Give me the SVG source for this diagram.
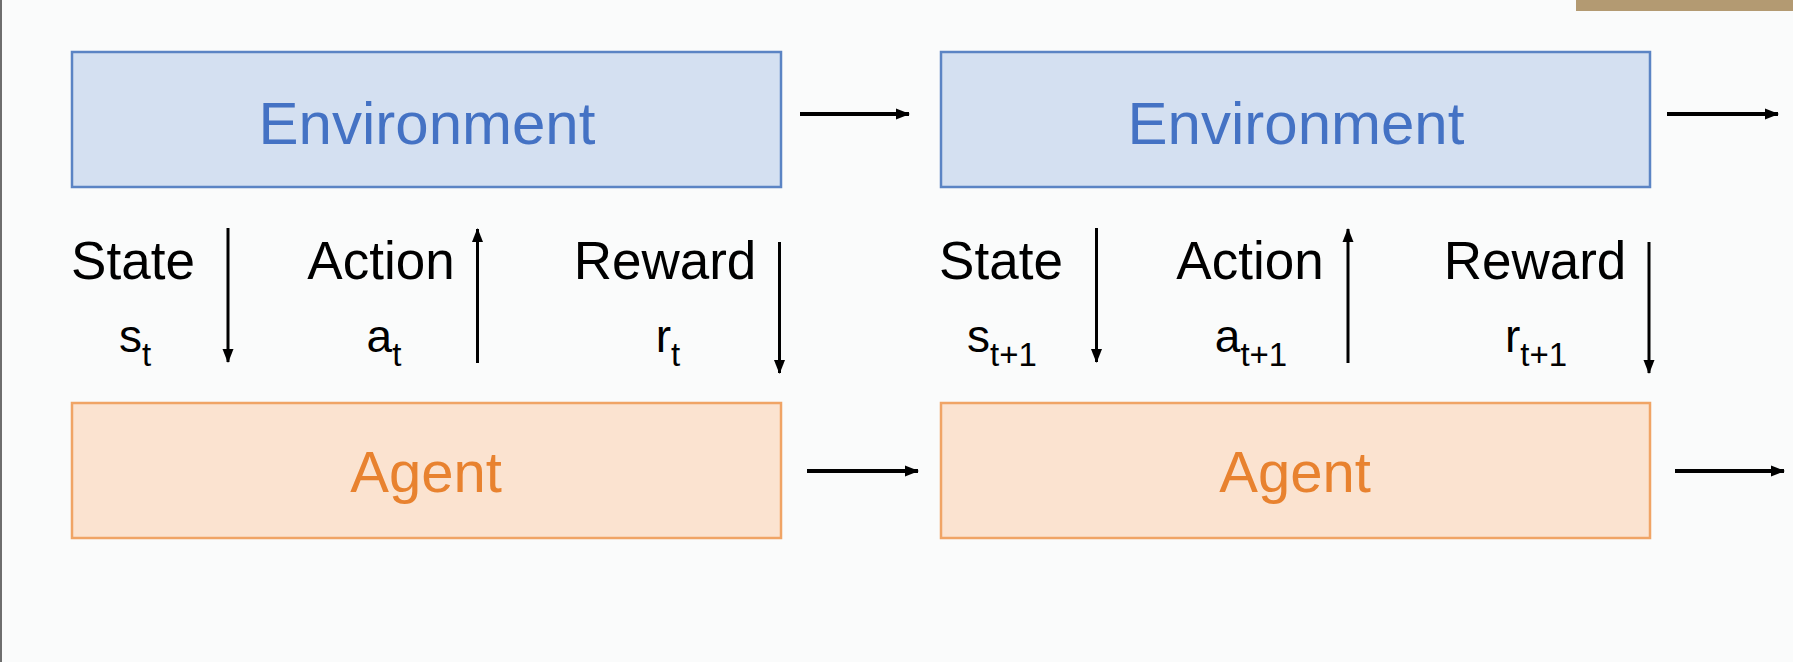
<svg xmlns="http://www.w3.org/2000/svg" width="1793" height="662" viewBox="0 0 1793 662">
<defs>
<style>
.env rect{fill:#d4e0f1;stroke:#5b84c4;stroke-width:2.5}
.env text{fill:#4472c4;font-family:"Liberation Sans",Arial,sans-serif;font-size:60px;text-anchor:middle}
.agent rect{fill:#fbe3d0;stroke:#f0a465;stroke-width:2.5}
.agent text{fill:#e8822f;font-family:"Liberation Sans",Arial,sans-serif;font-size:58px;text-anchor:middle}
.lbl{fill:#000;font-family:"Liberation Sans",Arial,sans-serif;font-size:53px;text-anchor:middle}
.sub{fill:#000;font-family:"Liberation Sans",Arial,sans-serif;font-size:46px;text-anchor:middle}
.v{stroke:#000;stroke-width:3;fill:none;marker-end:url(#ah)}
.h{stroke:#000;stroke-width:4;fill:none;marker-end:url(#ahh)}
</style>
<marker id="ah" viewBox="0 0 14 12" refX="13" refY="6" markerWidth="14" markerHeight="12" orient="auto" markerUnits="userSpaceOnUse">
<path d="M0,0.5 L14,6 L0,11.5 Z" fill="#000"/>
</marker>
<marker id="ahh" viewBox="0 0 14 12" refX="13" refY="6" markerWidth="14" markerHeight="12" orient="auto" markerUnits="userSpaceOnUse">
<path d="M0,0.5 L14,6 L0,11.5 Z" fill="#000"/>
</marker>
</defs>
<rect x="0" y="0" width="1793" height="662" fill="#fafbfb"/>
<rect x="0" y="0" width="2" height="662" fill="#6e6e6e"/>
<rect x="1576" y="0" width="217" height="11" fill="#b39a72"/>

<g id="env1" class="env"><rect x="72" y="52" width="709" height="135"/><text x="427" y="144">Environment</text></g>
<g id="env2" class="env"><rect x="941" y="52" width="709" height="135"/><text x="1296" y="144">Environment</text></g>
<g id="agent1" class="agent"><rect x="72" y="403" width="709" height="135"/><text x="426" y="492">Agent</text></g>
<g id="agent2" class="agent"><rect x="941" y="403" width="709" height="135"/><text x="1295" y="492">Agent</text></g>

<g id="labels1">
<text class="lbl" x="133" y="279">State</text>
<text class="lbl" x="381" y="279">Action</text>
<text class="lbl" x="665" y="279">Reward</text>
<text class="sub" x="135" y="352">s<tspan font-size="33" dy="14">t</tspan></text>
<text class="sub" x="384" y="352">a<tspan font-size="33" dy="14">t</tspan></text>
<text class="sub" x="668" y="352">r<tspan font-size="33" dy="14">t</tspan></text>
</g>
<g id="labels2">
<text class="lbl" x="1001" y="279">State</text>
<text class="lbl" x="1250" y="279">Action</text>
<text class="lbl" x="1535" y="279">Reward</text>
<text class="sub" x="1002" y="352">s<tspan font-size="33" dy="14">t+1</tspan></text>
<text class="sub" x="1251" y="352">a<tspan font-size="33" dy="14">t+1</tspan></text>
<text class="sub" x="1536" y="352">r<tspan font-size="33" dy="14">t+1</tspan></text>
</g>

<g id="connectors">
<line class="v" x1="228" y1="228" x2="228" y2="362"/>
<line class="v" x1="477.5" y1="363" x2="477.5" y2="229"/>
<line class="v" x1="779.5" y1="242" x2="779.5" y2="373"/>
<line class="v" x1="1096.5" y1="228" x2="1096.5" y2="362"/>
<line class="v" x1="1348" y1="363" x2="1348" y2="229"/>
<line class="v" x1="1649" y1="242" x2="1649" y2="373"/>
<line class="h" x1="800" y1="114" x2="909" y2="114"/>
<line class="h" x1="1667" y1="114" x2="1778" y2="114"/>
<line class="h" x1="807" y1="471" x2="918" y2="471"/>
<line class="h" x1="1675" y1="471" x2="1784" y2="471"/>
</g>
</svg>
